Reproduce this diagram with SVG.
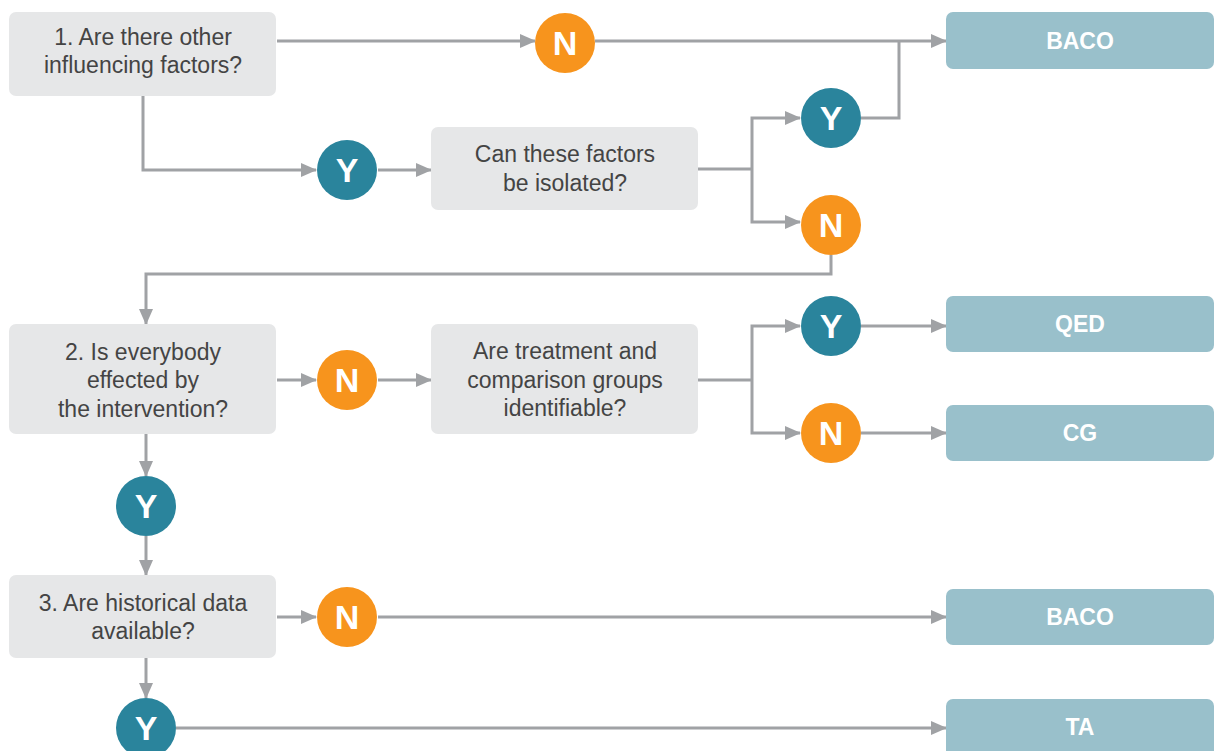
<svg xmlns="http://www.w3.org/2000/svg" width="1216" height="751" viewBox="0 0 1216 751">
  <style>
    .q { fill: #e6e7e8; }
    .r { fill: #99c0cb; }
    .qt { font-family: "Liberation Sans", Arial, sans-serif; font-size: 23px; fill: #444444; text-anchor: middle; }
    .rt { font-family: "Liberation Sans", Arial, sans-serif; font-size: 23px; font-weight: bold; fill: #ffffff; text-anchor: middle; }
    .y { fill: #2a849c; }
    .n { fill: #f7941d; }
    .ct { font-family: "Liberation Sans", Arial, sans-serif; font-size: 34px; font-weight: bold; fill: #ffffff; text-anchor: middle; }
    .ln { fill: none; stroke: #a0a2a5; stroke-width: 3; }
    .arr { fill: none; stroke: #a0a2a5; stroke-width: 3; marker-end: url(#head); }
  </style>
  <defs>
    <marker id="head" markerUnits="userSpaceOnUse" markerWidth="16" markerHeight="16" refX="15" refY="8" orient="auto">
      <path d="M0,1 L16,8 L0,15 Z" fill="#a0a2a5"/>
    </marker>
  </defs>

  <g id="connectors">
    <!-- question 1 -->
    <path class="arr" d="M277,41 H535"/>
    <path class="arr" d="M595,41 H946"/>
    <path class="arr" d="M143,96 V170 H316"/>
    <path class="arr" d="M378,170 H431"/>
    <path class="ln" d="M698,169 H752"/>
    <path class="arr" d="M752,169 V118 H800"/>
    <path class="arr" d="M752,169 V222 H800"/>
    <path class="ln" d="M861,118 H899 V41"/>
    <path class="arr" d="M831,255 V274 H146 V324"/>
    <!-- question 2 -->
    <path class="arr" d="M277,380 H316"/>
    <path class="arr" d="M378,380 H431"/>
    <path class="ln" d="M698,380 H752"/>
    <path class="arr" d="M752,380 V326 H800"/>
    <path class="arr" d="M752,380 V433 H800"/>
    <path class="arr" d="M861,326 H946"/>
    <path class="arr" d="M861,433 H946"/>
    <path class="arr" d="M146,434 V476"/>
    <path class="arr" d="M146,536 V575"/>
    <!-- question 3 -->
    <path class="arr" d="M277,617 H316"/>
    <path class="arr" d="M378,617 H946"/>
    <path class="arr" d="M146,658 V698"/>
    <path class="arr" d="M176,728 H946"/>
  </g>

  <g id="q1">
    <rect class="q" x="9" y="12" width="267" height="84" rx="7"/>
    <text class="qt" x="143" y="45">1. Are there other</text>
    <text class="qt" x="143" y="73">influencing factors?</text>
  </g>
  <g id="n1">
    <circle class="n" cx="565" cy="43" r="30"/>
    <text class="ct" x="565" y="55">N</text>
  </g>
  <g id="y1">
    <circle class="y" cx="347" cy="170" r="30"/>
    <text class="ct" x="347" y="182">Y</text>
  </g>
  <g id="q1b">
    <rect class="q" x="431" y="127" width="267" height="83" rx="7"/>
    <text class="qt" x="565" y="162">Can these factors</text>
    <text class="qt" x="565" y="191">be isolated?</text>
  </g>
  <g id="y1b">
    <circle class="y" cx="831" cy="118" r="30"/>
    <text class="ct" x="831" y="130">Y</text>
  </g>
  <g id="n1b">
    <circle class="n" cx="831" cy="225" r="30"/>
    <text class="ct" x="831" y="237">N</text>
  </g>
  <g id="baco1">
    <rect class="r" x="946" y="12" width="268" height="57" rx="7"/>
    <text class="rt" x="1080" y="49">BACO</text>
  </g>

  <g id="q2">
    <rect class="q" x="9" y="324" width="267" height="110" rx="7"/>
    <text class="qt" x="143" y="360">2. Is everybody</text>
    <text class="qt" x="143" y="388">effected by</text>
    <text class="qt" x="143" y="417">the intervention?</text>
  </g>
  <g id="n2">
    <circle class="n" cx="347" cy="380" r="30"/>
    <text class="ct" x="347" y="392">N</text>
  </g>
  <g id="q2b">
    <rect class="q" x="431" y="324" width="267" height="110" rx="7"/>
    <text class="qt" x="565" y="359">Are treatment and</text>
    <text class="qt" x="565" y="388">comparison groups</text>
    <text class="qt" x="565" y="416">identifiable?</text>
  </g>
  <g id="y2b">
    <circle class="y" cx="831" cy="326" r="30"/>
    <text class="ct" x="831" y="338">Y</text>
  </g>
  <g id="n2b">
    <circle class="n" cx="831" cy="433" r="30"/>
    <text class="ct" x="831" y="445">N</text>
  </g>
  <g id="qed">
    <rect class="r" x="946" y="296" width="268" height="56" rx="7"/>
    <text class="rt" x="1080" y="332">QED</text>
  </g>
  <g id="cg">
    <rect class="r" x="946" y="405" width="268" height="56" rx="7"/>
    <text class="rt" x="1080" y="441">CG</text>
  </g>
  <g id="y2">
    <circle class="y" cx="146" cy="506" r="30"/>
    <text class="ct" x="146" y="518">Y</text>
  </g>

  <g id="q3">
    <rect class="q" x="9" y="575" width="267" height="83" rx="7"/>
    <text class="qt" x="143" y="611">3. Are historical data</text>
    <text class="qt" x="143" y="639">available?</text>
  </g>
  <g id="n3">
    <circle class="n" cx="347" cy="617" r="30"/>
    <text class="ct" x="347" y="629">N</text>
  </g>
  <g id="baco2">
    <rect class="r" x="946" y="589" width="268" height="56" rx="7"/>
    <text class="rt" x="1080" y="625">BACO</text>
  </g>
  <g id="y3">
    <circle class="y" cx="146" cy="728" r="30"/>
    <text class="ct" x="146" y="740">Y</text>
  </g>
  <g id="ta">
    <rect class="r" x="946" y="699" width="268" height="60" rx="7"/>
    <text class="rt" x="1080" y="735">TA</text>
  </g>
</svg>
